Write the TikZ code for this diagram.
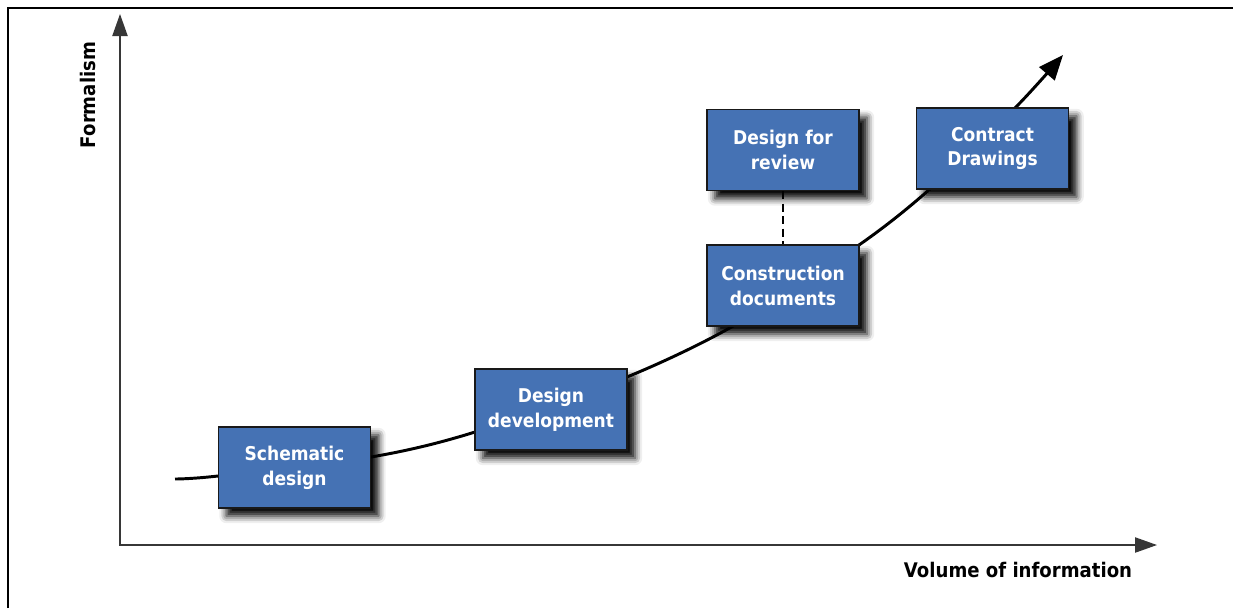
\documentclass[tikz,border=0pt]{standalone}
\usepackage{fontspec}
\setmainfont{DejaVu Sans}[FakeStretch=0.9]
\usepackage{tikz}
\usetikzlibrary{positioning}
\usetikzlibrary{arrows.meta}
\usetikzlibrary{shadows.blur}
\usetikzlibrary{backgrounds}

\definecolor{stageblue}{RGB}{69,114,180}
\definecolor{axisgrey}{RGB}{55,55,55}

\begin{document}
\begin{tikzpicture}[x=0.025cm, y=-0.025cm,
	stage/.style={draw=black!90, line width=1.1pt, fill=stageblue, text=white, align=center,
		minimum width=3.8cm, minimum height=2.025cm, inner sep=0pt,
		font=\bfseries\fontsize{13.5}{17.7}\selectfont,
		blur shadow={shadow xshift=0.2cm, shadow yshift=-0.2cm, shadow blur radius=0.18cm, shadow opacity=100}},
	axis/.style={draw=axisgrey, line width=1.1pt, {Triangle[length=0.55cm,width=0.38cm]}-{Triangle[length=0.55cm,width=0.38cm]}},
	growth/.style={line width=2.1pt, -{Triangle[length=0.62cm,width=0.5cm]}},
	axislabel/.style={font=\bfseries\fontsize{14.3}{16}\selectfont}]

			\useasboundingbox (0,0) rectangle (1233,608);

			% frame, only top and left edge show
			\draw[line width=2.1pt] (8,608) -- (8,8) -- (1233,8);

			% axes
			\coordinate (origin) at (120,545);
			\coordinate (ytop) at (120,14);
			\coordinate (xend) at (1157,545);
			\draw[axis] (ytop) -- (origin) -- (xend);
			\node[axislabel, rotate=90] (ylab) at (88,95) {Formalism};
			\node[axislabel] (xlab) at (1018,570) {Volume of information};

			% the stages
			\foreach \s/\x/\y/\txt in {sch/294.5/467.5/{Schematic\\design}, dev/551/409.5/{Design\\development}, rev/783/150/{Design for\\review}, con/783/285.5/{Construction\\documents}, ctr/992.5/148.5/{Contract\\Drawings}}
				{\node[stage] (\s) at (\x,\y) {\txt};}

			\draw[line width=1.9pt, dash pattern=on 0.2cm off 0.11cm] (rev) -- (con);

			% curve behind the stages
			\coordinate (start) at (175,479);
			\coordinate (tip) at (1063,55);
			\begin{scope}[on background layer]
				\draw[growth] plot[smooth, tension=0.5] coordinates {(start) (218,476) (371,457) (475,432) (627,377) (735,325) (859,245) (930,189) (1015,108) (tip)};
			\end{scope}
\end{tikzpicture}
\end{document}
